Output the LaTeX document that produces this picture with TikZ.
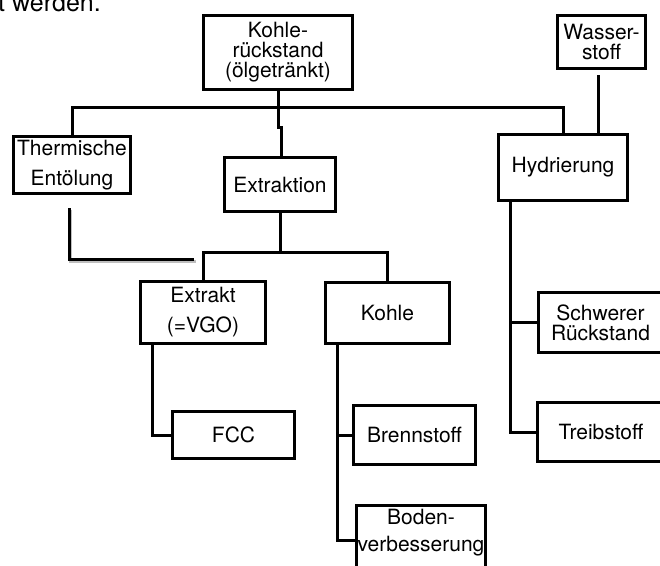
\documentclass[tikz,border=0pt]{standalone}
\usepackage{fontspec}
\setmainfont{TeX Gyre Heros}
\begin{document}
\begin{tikzpicture}[x=1pt,y=-1pt,
  box/.style={draw, line width=3pt, inner sep=0pt, align=center,
    font=\fontsize{21}{20}\selectfont},
  widebox/.style={box, font=\fontsize{21}{30}\selectfont},
  txt/.style={inner sep=0pt, align=center, font=\fontsize{21}{27}\selectfont},
  conn/.style={line width=3pt, line join=miter},
  shadowline/.style={line width=3pt, black!25}]
\useasboundingbox (0,0) rectangle (660,565);
\clip (0,0) rectangle (660,565);
% cut-off line of running text
\node[anchor=base west, inner sep=0pt, font=\fontsize{25}{25}\selectfont] (runtext) at (-2,11) {t werden.};
% boxes
\node[box, minimum width=149pt, minimum height=74pt] (kohle) at (278,52.5) {Kohle-\\rückstand\\(ölgetränkt)};
\node[box, minimum width=88pt, minimum height=53pt] (wasser) at (601.5,42) {Wasser-\\stoff};
\node[widebox, minimum width=117pt, minimum height=57pt] (therm) at (72,165) {Thermische\\Entölung};
\node[box, minimum width=111pt, minimum height=54pt] (extr) at (280,184.5) {Extraktion};
\node[box, minimum width=129pt, minimum height=66pt] (hydr) at (563,167.5) {Hydrierung};
\node[widebox, minimum width=125pt, minimum height=62pt] (extrakt) at (203,312.5) {Extrakt\\(=VGO)};
\node[box, minimum width=124pt, minimum height=61pt] (kohle2) at (387.5,313) {Kohle};
\node[box, minimum width=122pt, minimum height=47pt] (fcc) at (233.5,435) {FCC};
\node[box, minimum width=122pt, minimum height=59pt] (brenn) at (414.5,435) {Brennstoff};
\node[box, minimum width=129pt, minimum height=70pt] (boden) at (421,540) {};
\node[txt] (bodentxt) at (421,533) {Boden-\\verbesserung};
\node[box, minimum width=124pt, minimum height=60pt] (schwer) at (600.5,322.5) {Schwerer\\Rückstand};
\node[box, minimum width=127pt, minimum height=59pt] (treib) at (601,432) {Treibstoff};
% connectors
\coordinate (bus1) at (0,107);
\draw[conn] (kohle.south) -- (kohle.south |- bus1);
\draw[conn] (therm.north) |- (bus1 -| hydr.north) -- (hydr.north);
\coordinate (jog1) at (278,127);
\coordinate (jog2) at (281,127);
\draw[conn] (kohle.south) -- (jog1) -- (jog2) -- (jog2 |- extr.north);
\coordinate (wgap) at (598,75);
\draw[conn] (wgap) -- (wgap |- hydr.north);
\coordinate (bus2) at (0,252);
\draw[conn] (extr.south) -- (extr.south |- bus2);
\draw[conn] (extrakt.north) |- (bus2 -| kohle2.north) -- (kohle2.north);
% thermal oil-removal line with shadow
\coordinate (t1) at (69,208);
\coordinate (t2) at (194,259);
\draw[shadowline] ([shift={(1.5,2)}]t1) |- ([shift={(1.5,2)}]t2);
\draw[conn] (t1) |- (t2);
% Extrakt -> FCC
\coordinate (e1) at ([xshift=-51pt]extrakt.south);
\draw[conn] (e1) |- (fcc.west);
% Kohle -> Brennstoff, Bodenverbesserung
\coordinate (k1) at ([xshift=-50.5pt]kohle2.south);
\draw[conn] (k1) |- (boden.west);
\draw[conn] (brenn.west) -- (brenn.west -| k1);
% Hydrierung -> Schwerer Rückstand, Treibstoff
\coordinate (h1) at ([xshift=-53pt]hydr.south);
\draw[conn] (h1) |- (treib.west);
\draw[conn] (schwer.west) -- (schwer.west -| h1);
\end{tikzpicture}
\end{document}
